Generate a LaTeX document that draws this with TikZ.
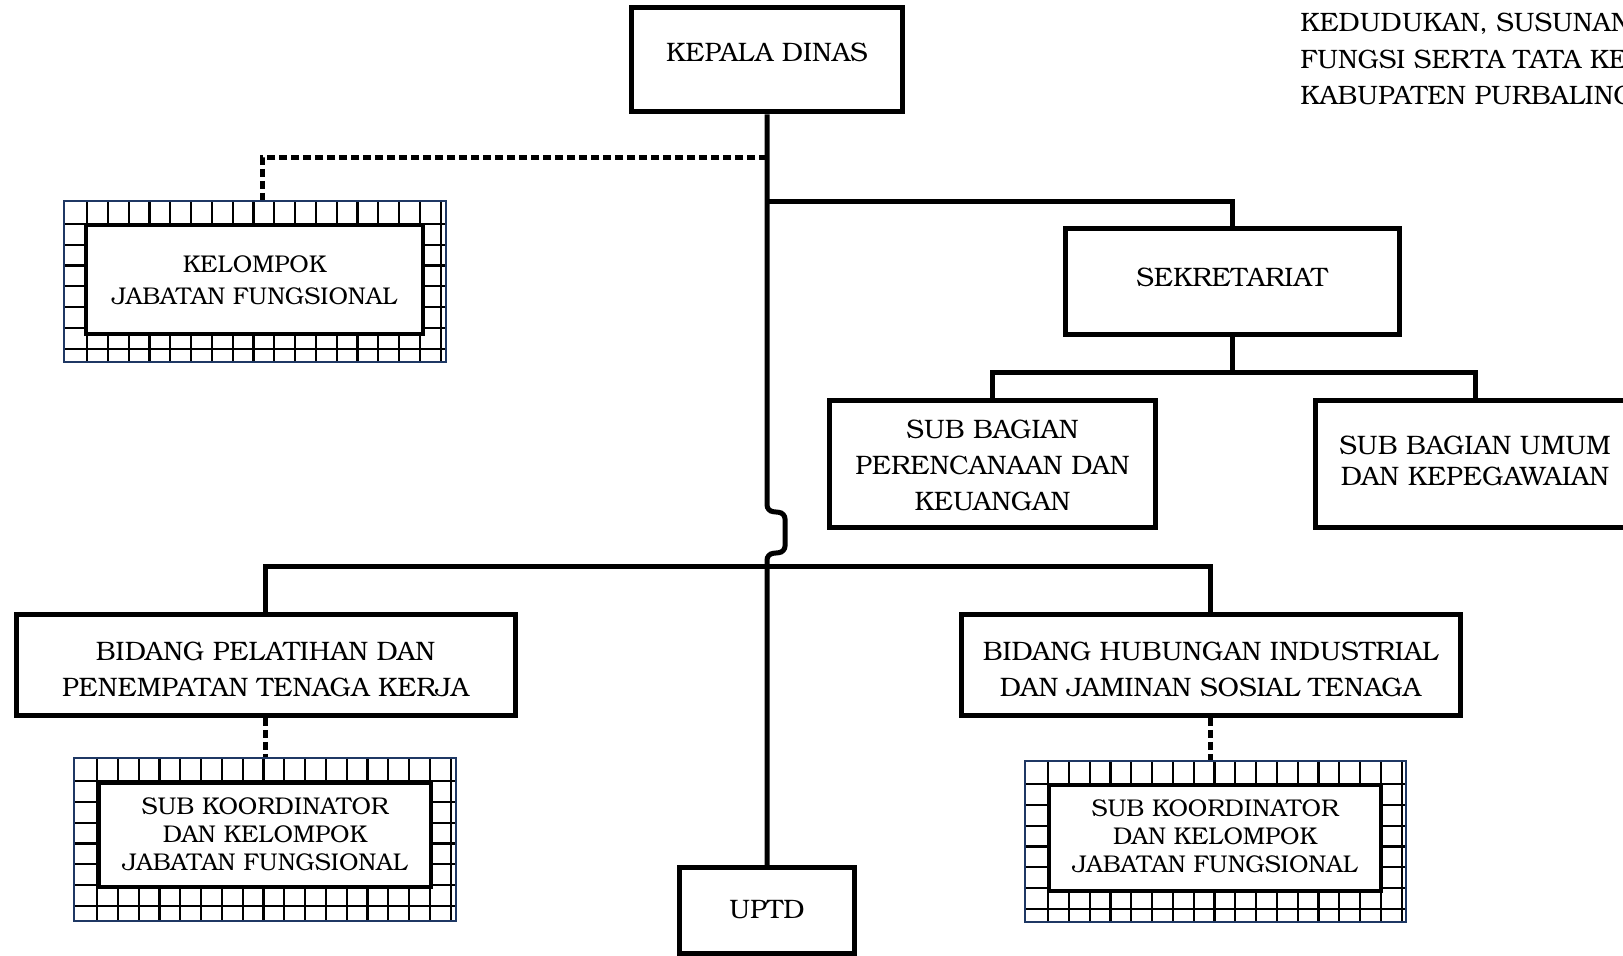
\documentclass[tikz,border=0pt]{standalone}
\usepackage{fontspec}
\setmainfont{texgyrebonum}[Extension=.otf, UprightFont=*-regular, BoldFont=*-bold, ItalicFont=*-italic, BoldItalicFont=*-bolditalic]
\usetikzlibrary{calc}
\definecolor{navy}{RGB}{31,56,100}
\newcommand\orgboxfont{\fontsize{13.35}{18}\selectfont}
\newcommand\orgboxfontb{\fontsize{13.35}{15.5}\selectfont}
\newcommand\orggridfont{\fontsize{12.1}{16}\selectfont}
\newcommand\orggridfontb{\fontsize{12.1}{14}\selectfont}
\newcommand\orgtitlefont{\fontsize{13.3}{18}\selectfont}
\begin{document}
\begin{tikzpicture}[x=0.5pt,y=-0.5pt,
  box/.style={draw, line width=2.5pt, rectangle, inner sep=0pt},
  lbl/.style={inner sep=0pt, align=center, font=\orgboxfont},
  conn/.style={line width=2.5pt},
  dotconn/.style={line width=2.5pt, dash pattern=on 4pt off 2pt},
  gridline/.style={line width=1.1pt, black},
  gridframe/.style={draw=navy, line width=1pt, inner sep=0pt, rectangle,
    path picture={
      \foreach \i in {0,...,18}{
        \draw[gridline] ([xshift={(23+\i*20.8)*0.5pt}]path picture bounding box.north west) -- ([xshift={(23+\i*20.8)*0.5pt}]path picture bounding box.south west);}
      \foreach \j in {0,...,7}{
        \draw[gridline] ([yshift={-(23+\j*20.8)*0.5pt}]path picture bounding box.north west) -- ([yshift={-(23+\j*20.8)*0.5pt}]path picture bounding box.north east);}
    }},
  innerbox/.style={draw, fill=white, line width=2.2pt, rectangle, inner sep=0pt},
  gridlbl/.style={inner sep=0pt, align=center, font=\orggridfont},
  title/.style={anchor=base west, inner sep=0pt, font=\orgtitlefont}
]
\useasboundingbox (0,0) rectangle (1623,956);
\clip (0,0) rectangle (1623,956);

% boxes
\node[box, minimum width=135.5pt, minimum height=52pt] (kd) at (767,60) {};
\node[lbl] (kdT) at (767,52) {KEPALA DINAS};
\node[box, minimum width=167pt, minimum height=53pt] (sek) at (1232,281.5) {};
\node[lbl] (sekT) at (1232,277) {SEKRETARIAT};
\node[box, minimum width=163pt, minimum height=63.5pt] (sbp) at (992.5,464) {};
\node[lbl] (sbpT) at (992.5,465) {SUB BAGIAN\\PERENCANAAN DAN\\KEUANGAN};
\node[box, minimum width=159.5pt, minimum height=63.5pt] (sbu) at (1475,464) {};
\node[lbl, font=\orgboxfontb] (sbuT) at (1475,460.5) {SUB BAGIAN UMUM\\DAN KEPEGAWAIAN};
\node[box, minimum width=249.5pt, minimum height=50.5pt] (bpl) at (265.5,665) {};
\node[lbl] (bplT) at (265.5,669) {BIDANG PELATIHAN DAN\\PENEMPATAN TENAGA KERJA};
\node[box, minimum width=249.5pt, minimum height=50.5pt] (bhi) at (1210.5,665) {};
\node[lbl] (bhiT) at (1210.5,669) {BIDANG HUBUNGAN INDUSTRIAL\\DAN JAMINAN SOSIAL TENAGA};
\node[box, minimum width=87.5pt, minimum height=43pt] (uptd) at (767,910.5) {};
\node[lbl] (uptdT) at (767,910) {UPTD};

% grid boxes
\node[gridframe, minimum width=191pt, minimum height=80.5pt] (gkf) at (255,281.5) {};
\node[innerbox, minimum width=168.5pt, minimum height=54.5pt] (gki) at (254.5,279.5) {};
\node[gridlbl] (gkT) at (254.5,280) {KELOMPOK\\JABATAN FUNGSIONAL};
\node[gridframe, minimum width=191pt, minimum height=81.5pt] (glf) at (265,839.5) {};
\node[innerbox, minimum width=166pt, minimum height=52pt] (gli) at (265,835) {};
\node[gridlbl, font=\orggridfontb] (glT) at (265,834) {SUB KOORDINATOR\\DAN KELOMPOK\\JABATAN FUNGSIONAL};
\node[gridframe, minimum width=190.5pt, minimum height=80.5pt] (grf) at (1215.5,841.5) {};
\node[innerbox, minimum width=166pt, minimum height=53pt] (gri) at (1215,838) {};
\node[gridlbl, font=\orggridfontb] (grT) at (1215,836) {SUB KOORDINATOR\\DAN KELOMPOK\\JABATAN FUNGSIONAL};

% title text (top right)
\node[title] (t1) at (1300,32) {KEDUDUKAN, SUSUNAN};
\node[title] (t2) at (1300,69) {FUNGSI SERTA TATA KERJA};
\node[title] (t3) at (1300,105) {KABUPATEN PURBALINGGA};

% junctions
\coordinate (j1) at (767,202);
\coordinate (j2) at (1232,373);
\coordinate (j3) at (767,567);
\coordinate (j4) at (767,158);

% connectors
\draw[conn, rounded corners=3pt] (kd.south) -- (767,511) -- (785,513) -- (785,552) -- (767,554) -- (uptd.north);
\draw[conn] (j1) -| (sek.north);
\draw[conn] (sek.south) -- (j2);
\draw[conn] (sbp.north) -- (sbp.north |- j2) -- (sbu.north |- j2) -- (sbu.north);
\draw[conn] (bpl.north) -- (bpl.north |- j3) -- (bhi.north |- j3) -- (bhi.north);
\draw[dotconn] (j4) -| ([xshift=3.5pt]gkf.north);
\draw[dotconn] (bpl.south) -- (bpl.south |- glf.north);
\draw[dotconn] (bhi.south) -- (bhi.south |- grf.north);
\end{tikzpicture}
\end{document}
